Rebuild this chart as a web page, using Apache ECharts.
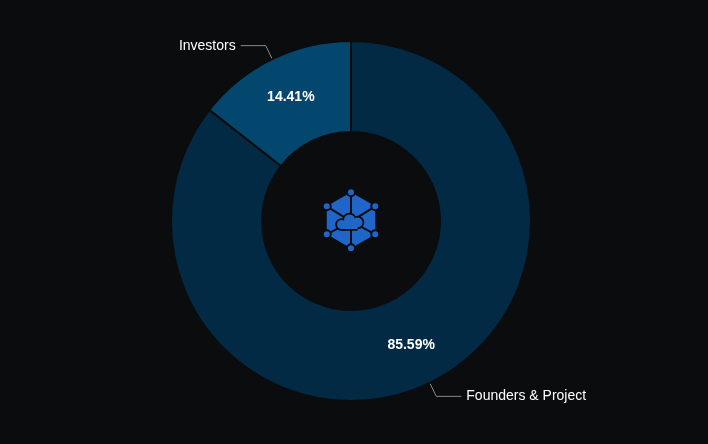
<!DOCTYPE html>
<html>
<head>
<meta charset="utf-8">
<script src="https://cdn.jsdelivr.net/npm/echarts@6/dist/echarts.min.js"></script>
<style>
html,body{margin:0;padding:0;background:#0b0c0e;}
#chart{width:708px;height:444px;}
</style>
</head>
<body>
<div id="chart"></div>
<script>
const categories = ['Founders & Project', 'Investors'];
const shares = [85.59, 14.41];
const sliceColors = ['#022a45', '#03476f'];

const chart = echarts.init(document.getElementById('chart'));
const data = categories.map((c, i) => ({ name: c, value: shares[i], itemStyle: { color: sliceColors[i] } }));

const cx = 351, cy = 220.3, R = 28;
const verts = [];
for (let k = 0; k < 6; k++) {
  const a = (-90 + 60 * k) * Math.PI / 180;
  verts.push([cx + R * Math.cos(a), cy + R * Math.sin(a)]);
}
const blue = '#1f66c8', dark = '#0b0c0e';
const graphics = [];
graphics.push({ type: 'polygon', shape: { points: verts }, style: { fill: blue }, z: 100 });
verts.forEach(v => graphics.push({ type: 'line', shape: { x1: cx, y1: cy + 1, x2: v[0], y2: v[1] }, style: { stroke: dark, lineWidth: 2 }, z: 101 }));
// cloud: dark outline layer then blue fill layer
const bumps = [[341.5, 224.5, 4.5], [349.5, 220, 5.5], [357.5, 222.5, 5]];
const base = { x: 341.5, y: 222.5, w: 16, h: 6.5 };
const ow = 1.8;
bumps.forEach(b => graphics.push({ type: 'circle', shape: { cx: b[0], cy: b[1], r: b[2] + ow }, style: { fill: dark }, z: 102 }));
graphics.push({ type: 'rect', shape: { x: base.x, y: base.y, width: base.w, height: base.h + ow }, style: { fill: dark }, z: 102 });
bumps.forEach(b => graphics.push({ type: 'circle', shape: { cx: b[0], cy: b[1], r: b[2] }, style: { fill: blue }, z: 103 }));
graphics.push({ type: 'rect', shape: { x: base.x, y: base.y, width: base.w, height: base.h }, style: { fill: blue }, z: 103 });
verts.forEach(v => graphics.push({ type: 'circle', shape: { cx: v[0], cy: v[1], r: 4 }, style: { fill: blue, stroke: dark, lineWidth: 2 }, z: 104 }));

chart.setOption({
  backgroundColor: '#0b0c0e',
  animation: false,
  graphic: graphics,
  series: [
    {
      type: 'pie',
      center: [351, 221],
      radius: [89, 180],
      startAngle: 90,
      clockwise: true,
      data: data,
      itemStyle: { borderColor: '#0b0c0e', borderWidth: 2 },
      label: {
        show: true, position: 'outside', formatter: '{b}',
        color: '#ffffff', fontSize: 14, fontFamily: 'Liberation Sans, Arial, sans-serif'
      },
      labelLine: { show: true, length: 15, length2: 25, lineStyle: { color: '#8a8a8a', width: 1 } },
      emphasis: { disabled: true }
    },
    {
      type: 'pie',
      center: [351, 221],
      radius: [89, 180],
      startAngle: 90,
      clockwise: true,
      silent: true,
      data: categories.map((c, i) => ({ name: c, value: shares[i] })),
      itemStyle: { color: 'rgba(0,0,0,0)' },
      label: {
        show: true, position: 'inside',
        formatter: p => p.value.toFixed(2) + '%',
        color: '#ffffff', fontSize: 14, fontWeight: 'bold', fontFamily: 'Liberation Sans, Arial, sans-serif'
      },
      labelLine: { show: false },
      emphasis: { disabled: true }
    }
  ]
});
</script>
</body>
</html>
